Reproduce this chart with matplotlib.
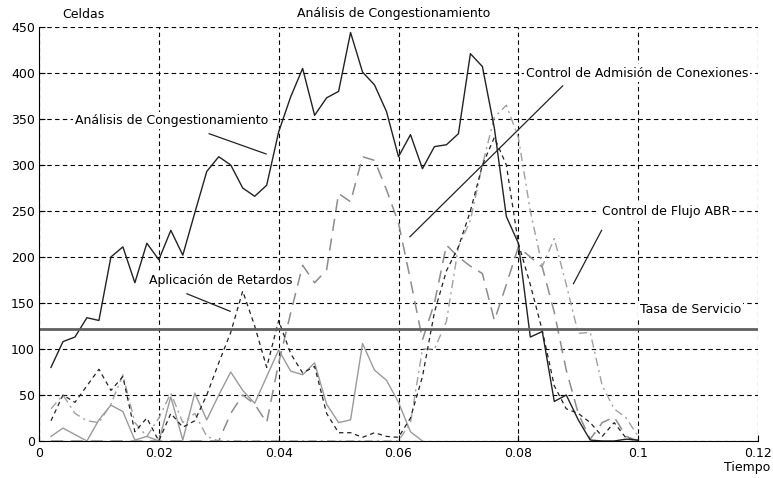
import numpy as np
import matplotlib.pyplot as plt

plt.rcParams['font.family'] = ['DejaVu Sans']

t = np.round(np.arange(1, 51) * 0.002, 3)

# Analisis de Congestionamiento (black solid)
congestion = [80, 108, 113, 134, 131, 200, 211, 172, 215, 197,
              229, 202, 248, 293, 309, 300, 275, 266, 278, 336,
              374, 405, 354, 373, 380, 444, 401, 387, 358, 309,
              333, 296, 320, 322, 334, 421, 407, 340, 244, 215,
              113, 119, 43, 50, 23, 1, 0, 0, 2, 1]

# Aplicacion de Retardos (black fine dashes)
retardos = [22, 50, 42, 60, 78, 55, 70, 10, 25, 0,
            30, 15, 22, 50, 85, 118, 163, 125, 80, 131,
            95, 74, 81, 30, 9, 9, 4, 9, 5, 4,
            25, 70, 140, 185, 211, 250, 300, 330, 300, 215,
            170, 120, 60, 35, 30, 20, 5, 20, 3, 0]

# Control de Admision de Conexiones (gray long dashes)
admision = [0, 0, 0, 0, 0, 0, 0, 0, 0, 0,
            0, 0, 0, 0, 0, 30, 50, 40, 20, 85,
            139, 191, 172, 186, 269, 260, 309, 305, 273, 237,
            175, 110, 150, 213, 200, 190, 182, 131, 170, 211,
            200, 189, 140, 77, 30, 2, 20, 26, 5, 0]

# Control de Flujo ABR (gray dash-dot)
flujo = [35, 50, 30, 22, 20, 40, 72, 20, 5, 25,
         52, 20, 30, 5, 0, 0, 0, 0, 0, 0,
         0, 0, 0, 0, 0, 0, 0, 0, 0, 0,
         20, 100, 100, 130, 211, 240, 300, 352, 365, 330,
         250, 190, 220, 170, 117, 118, 60, 35, 25, 5]

# otra fuente (gray solid), only until 0.064
t_otra = t[:32]
otra = [5, 14, 7, 0, 23, 39, 32, 1, 5, 0,
        48, 1, 52, 23, 50, 75, 55, 41, 70, 99,
        76, 72, 85, 40, 20, 23, 106, 77, 66, 42,
        10, 0]

tasa_servicio = 122

fig = plt.figure(figsize=(7.73, 4.78), dpi=100)
ax = fig.add_axes([39/773, 1-441/478, 719/773, 414/478])

ax.plot(t_otra, otra, color='#9a9a9a', lw=1.0)
ax.plot(t, flujo, color='#a0a0a0', lw=1.0, ls=(0, (6, 3, 1.5, 3)))
ax.plot(t, admision, color='#8c8c8c', lw=1.1, ls=(0, (8, 5)))
ax.plot(t, retardos, color='#222222', lw=0.9, ls=(0, (3.5, 3)))
ax.plot(t, congestion, color='#222222', lw=1.0)
ax.axhline(tasa_servicio, color='#606060', lw=2.0)

ax.set_xlim(0, 0.12)
ax.set_ylim(0, 450)
ax.set_xticks(np.arange(0, 0.121, 0.02))
ax.set_xticklabels(['0', '0.02', '0.04', '0.06', '0.08', '0.1', '0.12'])
ax.set_yticks(np.arange(0, 451, 50))
ax.grid(True, color='black', ls=(0, (4, 3)), lw=0.8)
ax.spines['top'].set_visible(False)
ax.spines['right'].set_visible(False)
ax.tick_params(direction='in', length=4, labelsize=9, colors='black')
ax.tick_params(axis='x', pad=4)
ax.tick_params(axis='y', pad=3)

fig.text(62/773, 1-14/478, 'Celdas', fontsize=9, ha='left', va='center')
fig.text(394/773, 1-14/478, 'Análisis de Congestionamiento', fontsize=9, ha='center', va='center')
fig.text(770/773, 1-468/478, 'Tiempo', fontsize=9, ha='right', va='center')

box = dict(facecolor='white', edgecolor='none', pad=1.5)

def note(text, xy_text, p0=None, p1=None):
    ax.text(xy_text[0], xy_text[1], text, fontsize=9, ha='center', va='center', bbox=box, zorder=5)
    if p0 is not None:
        ax.plot([p0[0], p1[0]], [p0[1], p1[1]], color='#222222', lw=0.9, zorder=6)

note('Análisis de Congestionamiento', (0.0222, 348), (0.0284, 334), (0.0379, 312))
note('Aplicación de Retardos', (0.0304, 174), (0.0247, 160), (0.0319, 141))
note('Control de Admisión de Conexiones', (0.0998, 400), (0.0874, 386), (0.0619, 222))
note('Control de Flujo ABR', (0.1046, 249), (0.0939, 229), (0.0892, 171))
note('Tasa de Servicio', (0.1087, 143))

fig.savefig('out.png', dpi=100)
